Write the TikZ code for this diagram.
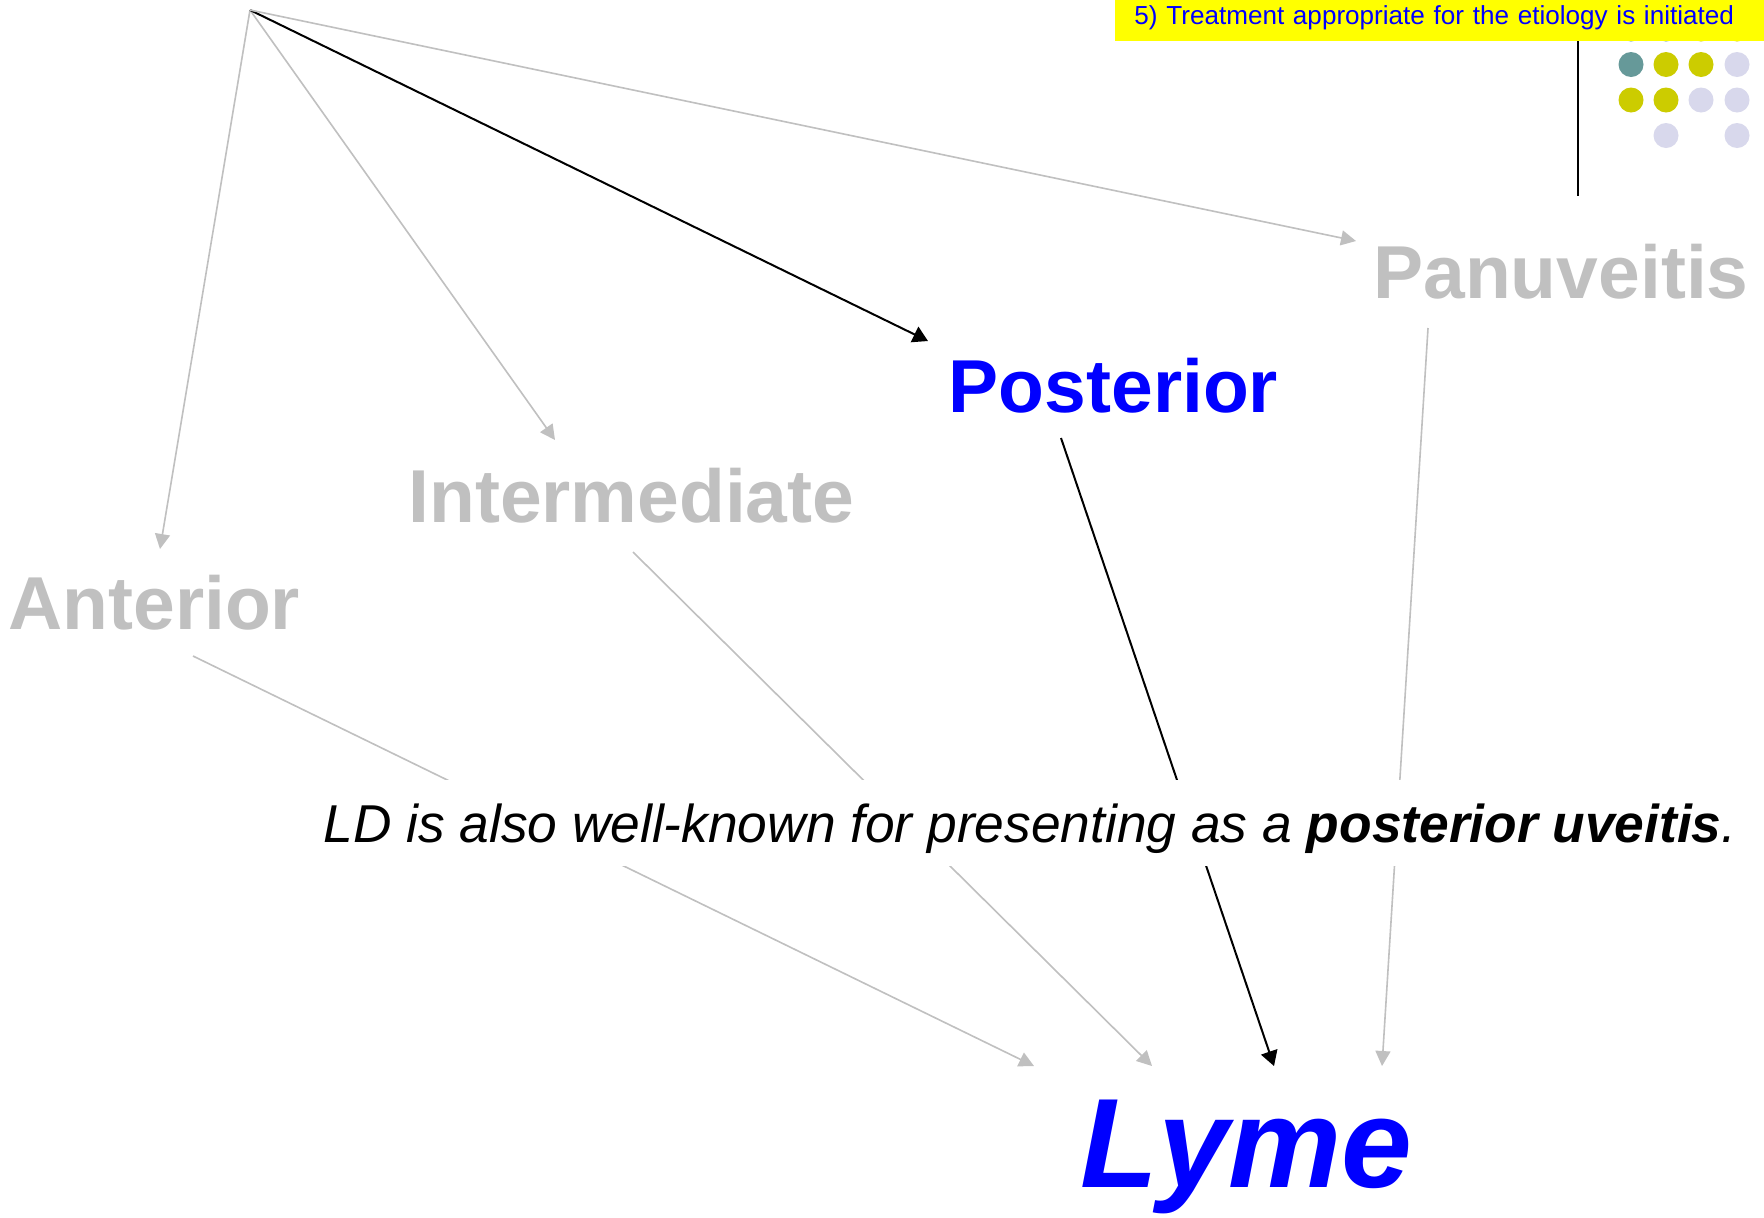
\documentclass[tikz,border=0pt]{standalone}
\usepackage{fontspec}
\setmainfont{Liberation Sans}
\usetikzlibrary{arrows.meta}
\definecolor{lgray}{RGB}{192,192,192}
\definecolor{pblue}{RGB}{0,0,255}
\definecolor{dteal}{RGB}{102,153,153}
\definecolor{dolive}{RGB}{204,204,0}
\definecolor{dlav}{RGB}{216,216,236}
\definecolor{tyellow}{RGB}{255,255,0}
\begin{document}
\begin{tikzpicture}[x=0.5pt,y=-0.5pt,
  lbl/.style={anchor=base west, inner sep=0pt, font=\fontsize{37.5}{45}\selectfont\bfseries},
  garrow/.style={draw=lgray, line width=0.8pt, -{Triangle[length=7.5pt,width=7.5pt]}},
  barrow/.style={draw=black, line width=1pt, -{Triangle[length=7.5pt,width=8.5pt]}},
  bline/.style={draw=black, line width=1pt},
]
\useasboundingbox[fill=white] (0,0) rectangle (1764,1217);

% end points of the connectors
\coordinate (O) at (250,10);
\coordinate (antin) at (160,549);
\coordinate (intin) at (555,440);
\coordinate (posin) at (928,341);
\coordinate (panin) at (1356,241);
\coordinate (antout) at (193,656);
\coordinate (intout) at (633,552);
\coordinate (posout) at (1061,438);
\coordinate (panout) at (1428,328);
\coordinate (lymeA) at (1034,1066);
\coordinate (lymeI) at (1152,1066);
\coordinate (lymeP) at (1274,1066);
\coordinate (lymeN) at (1382,1066);
\coordinate (vtop) at (1578,41);
\coordinate (vbot) at (1578,196);

% decorative dots
\foreach \x/\y/\c in {1631/29/dteal,1666/29/dteal,1701/29/dolive,1737/29/dolive,
  1631/64.5/dteal,1666/64.5/dolive,1701/64.5/dolive,1737/64.5/dlav,
  1631/100/dolive,1666/100/dolive,1701/100/dlav,1737/100/dlav,
  1666/135.5/dlav,1737/135.5/dlav}
  \fill[\c] (\x,\y) circle[radius=6.25pt];

% connectors
\draw[garrow] (O) -- (antin);
\draw[garrow] (O) -- (intin);
\draw[barrow] (O) -- (posin);
\draw[garrow] (O) -- (panin);
\draw[garrow] (antout) -- (lymeA);
\draw[garrow] (intout) -- (lymeI);
\draw[barrow] (posout) -- (lymeP);
\draw[garrow] (panout) -- (lymeN);
\draw[bline] (vtop) -- (vbot);

% title bar
\node[anchor=north west, fill=tyellow, inner ysep=0pt, inner xsep=9.5pt,
      text width=305.5pt, align=left, text height=12pt, text depth=8.5pt,
      font=\fontsize{13.05}{16}\selectfont, text=pblue] (title) at (1115,0)
      {5) Treatment appropriate for the etiology is initiated};

% labels
\node[lbl, text=lgray] (ant) at (8,629) {Anterior};
\node[lbl, text=lgray] (int) at (408,522) {Intermediate};
\node[lbl, text=pblue] (pos) at (948.5,412) {Posterior};
\node[lbl, text=lgray] (pan) at (1373,298) {Panuveitis};
\node[anchor=base west, inner sep=0pt, text=pblue,
      font=\fontsize{63.6}{75}\selectfont\bfseries\itshape] (lyme) at (1080,1187) {Lyme};

% sentence (covers the connectors)
\node[anchor=base west, fill=white, inner xsep=0pt, inner ysep=0pt,
      text height=31pt, text depth=12pt,
      font=\fontsize{26.65}{32}\selectfont\itshape] (sent) at (323,842)
      {LD is also well-known for presenting as a {\bfseries posterior uveitis}.};
\end{tikzpicture}
\end{document}
